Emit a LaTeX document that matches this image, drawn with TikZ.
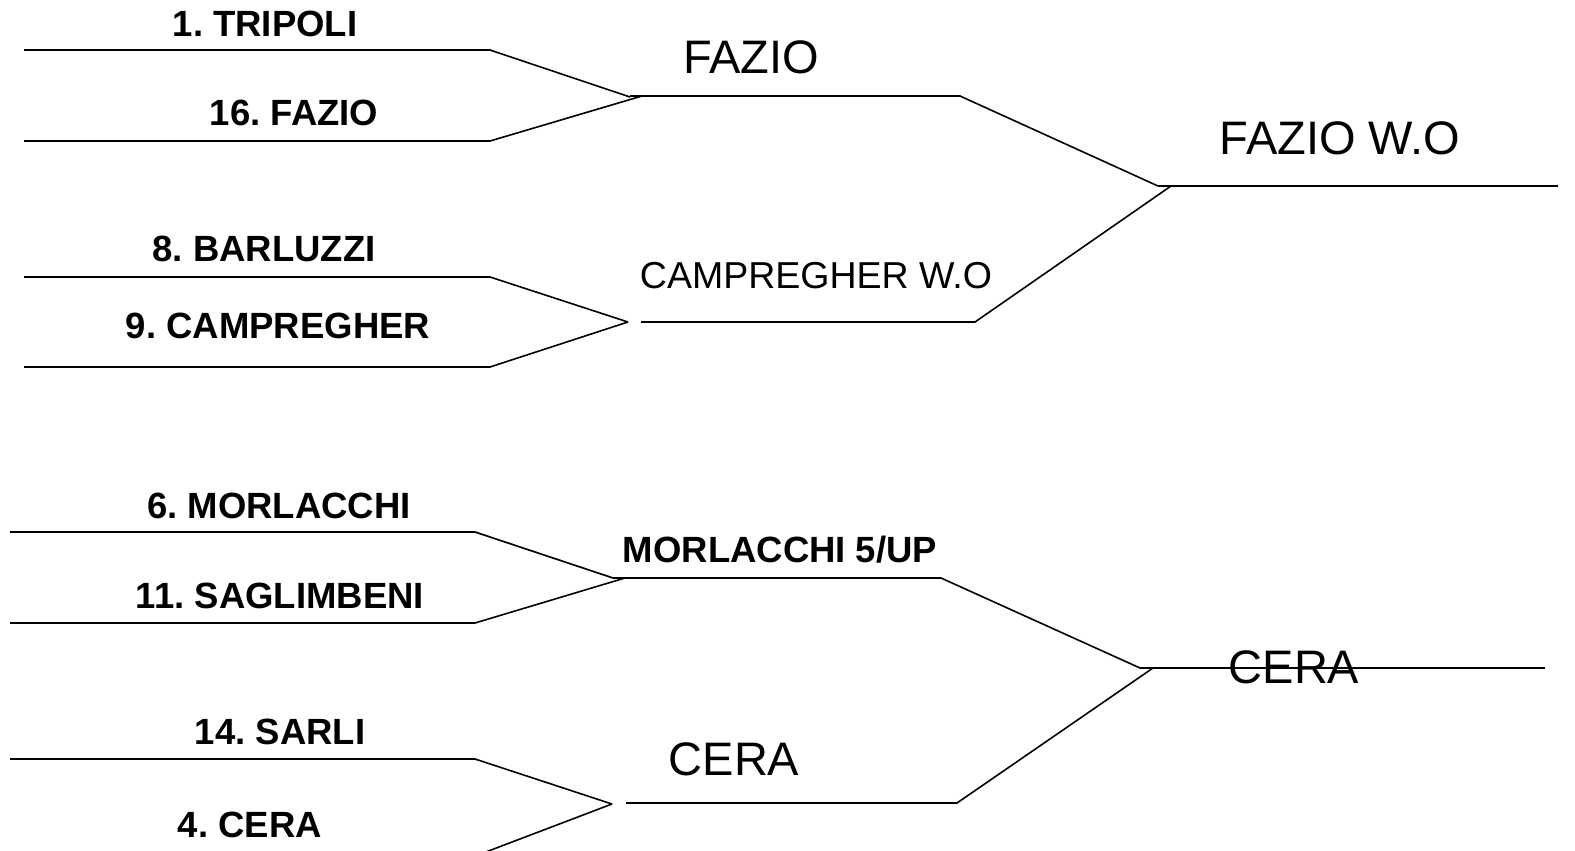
\documentclass[tikz,border=0pt]{standalone}
\usepackage{fontspec}
\setmainfont{Liberation Sans}
\frenchspacing
\begin{document}
\begin{tikzpicture}[x=1bp,y=-1bp,
  br/.style={line width=1.6bp,line join=miter},
  seed/.style={anchor=base,inner sep=0pt,font=\fontsize{36.5bp}{40bp}\selectfont\bfseries},
  win/.style={anchor=base,inner sep=0pt,font=\fontsize{47bp}{50bp}\selectfont},
  winm/.style={anchor=base,inner sep=0pt,font=\fontsize{37.5bp}{42bp}\selectfont}]
\useasboundingbox (0,0) rectangle (1575,850);
% coordinates top
\coordinate (a1s) at (24,50);   \coordinate (a1e) at (490,50);
\coordinate (a2s) at (24,141);  \coordinate (a2e) at (490,141);
\coordinate (apx) at (630,97);  \coordinate (apy) at (642,96);
\coordinate (fzs) at (630,96);  \coordinate (fze) at (960,96);
\coordinate (b1s) at (24,277);  \coordinate (b1e) at (490,277);
\coordinate (b2s) at (24,367);  \coordinate (b2e) at (490,367);
\coordinate (bpx) at (628,322);
\coordinate (cms) at (641,322); \coordinate (cme) at (975,322);
\coordinate (tfx) at (1158,186); \coordinate (tfy) at (1171,186);
\coordinate (tfe) at (1558,186);
% coordinates bottom
\coordinate (c1s) at (10,532);  \coordinate (c1e) at (475,532);
\coordinate (c2s) at (10,623);  \coordinate (c2e) at (475,623);
\coordinate (cpx) at (613,578); \coordinate (cpy) at (625,578);
\coordinate (mls) at (613,578); \coordinate (mle) at (941,578);
\coordinate (d1s) at (10,759);  \coordinate (d1e) at (475,759);
\coordinate (d2s) at (10,858);  \coordinate (d2e) at (470,858);
\coordinate (dpx) at (612,804);
\coordinate (crs) at (626,803); \coordinate (cre) at (957,803);
\coordinate (bfx) at (1140,668); \coordinate (bfy) at (1153,668);
\coordinate (bfe) at (1545,668);
% lines top
\draw[br] (a1s) -- (a1e) -- (apx);
\draw[br] (a2s) -- (a2e) -- (apy);
\draw[br] (fzs) -- (fze) -- (tfx);
\draw[br] (b1s) -- (b1e) -- (bpx);
\draw[br] (b2s) -- (b2e) -- (bpx);
\draw[br] (cms) -- (cme) -- (tfy);
\draw[br] (tfx) -- (tfe);
% lines bottom
\draw[br] (c1s) -- (c1e) -- (cpx);
\draw[br] (c2s) -- (c2e) -- (cpy);
\draw[br] (mls) -- (mle) -- (bfx);
\draw[br] (d1s) -- (d1e) -- (dpx);
\draw[br] (d2s) -- (d2e) -- (dpx);
\draw[br] (crs) -- (cre) -- (bfy);
\draw[br] (bfx) -- (bfe);
% seeds
\node[seed] (t1) at (265,36) {1. TRIPOLI};
\node[seed] (t16) at (294,125) {16. FAZIO};
\node[seed] (t8) at (264,261) {8. BARLUZZI};
\node[seed] (t9) at (278,338) {9. CAMPREGHER};
\node[seed] (t6) at (279,518) {6. MORLACCHI};
\node[seed] (t11) at (280,608) {11. SAGLIMBENI};
\node[seed] (t14) at (280,744) {14. SARLI};
\node[seed] (t4) at (250,837) {4. CERA};
% winners
\node[win] (wfz) at (751,73) {FAZIO};
\node[winm] (wcm) at (816,288) {CAMPREGHER W.O};
\node[win] (wfzwo) at (1340,154) {FAZIO W.O};
\node[seed] (wml) at (780,562) {MORLACCHI 5/UP};
\node[win] (wcr) at (734,775) {CERA};
\node[win] (wcrf) at (1294,683) {CERA};
\end{tikzpicture}
\end{document}
